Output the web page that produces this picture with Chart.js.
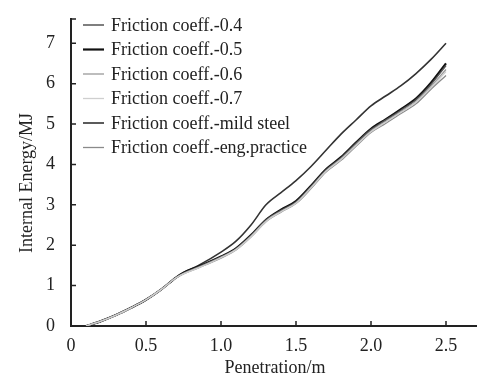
<!DOCTYPE html>
<html>
<head>
<meta charset="utf-8">
<script src="https://cdn.jsdelivr.net/npm/chart.js@4.4.0/dist/chart.umd.min.js"></script>
<style>
  html, body { margin: 0; padding: 0; background: #fff; }
  canvas { display: block; }
</style>
</head>
<body>
<canvas id="chart" width="477" height="378"></canvas>
<script>
// penetration (m) shared by every curve
const penetration = [0.1, 0.2, 0.3, 0.4, 0.5, 0.6, 0.7, 0.75, 0.85, 1.0, 1.1, 1.2, 1.3, 1.4, 1.5, 1.6, 1.7, 1.8, 1.9, 2.0, 2.1, 2.2, 2.3, 2.4, 2.5];

// internal energy (MJ)
const coeff04   = [0, 0.12, 0.27, 0.45, 0.65, 0.9, 1.2, 1.31, 1.46, 1.71, 1.91, 2.24, 2.62, 2.86, 3.07, 3.45, 3.86, 4.16, 4.52, 4.86, 5.1, 5.34, 5.6, 5.98, 6.45];
const coeff05   = [0, 0.12, 0.27, 0.45, 0.65, 0.9, 1.2, 1.32, 1.47, 1.72, 1.92, 2.25, 2.63, 2.88, 3.09, 3.47, 3.88, 4.18, 4.54, 4.88, 5.12, 5.37, 5.63, 6.02, 6.5];
const coeff06   = [0, 0.12, 0.27, 0.45, 0.65, 0.9, 1.2, 1.3, 1.45, 1.7, 1.9, 2.22, 2.6, 2.84, 3.05, 3.43, 3.84, 4.14, 4.49, 4.83, 5.07, 5.31, 5.56, 5.93, 6.35];
const coeff07   = [0, 0.12, 0.27, 0.45, 0.65, 0.9, 1.19, 1.29, 1.44, 1.69, 1.89, 2.21, 2.59, 2.83, 3.04, 3.42, 3.83, 4.12, 4.47, 4.81, 5.05, 5.29, 5.54, 5.9, 6.3];
const mildSteel = [0, 0.12, 0.27, 0.45, 0.65, 0.9, 1.2, 1.32, 1.5, 1.83, 2.1, 2.5, 3.0, 3.3, 3.6, 3.95, 4.35, 4.75, 5.1, 5.45, 5.7, 5.95, 6.25, 6.6, 7.0];
const engPractice = [0, 0.12, 0.27, 0.45, 0.65, 0.9, 1.19, 1.29, 1.44, 1.68, 1.88, 2.2, 2.58, 2.82, 3.03, 3.4, 3.81, 4.1, 4.45, 4.79, 5.02, 5.26, 5.5, 5.86, 6.2];

const seriesLabels = ['Friction coeff.-0.4', 'Friction coeff.-0.5', 'Friction coeff.-0.6', 'Friction coeff.-0.7', 'Friction coeff.-mild steel', 'Friction coeff.-eng.practice'];
const seriesData = [coeff04, coeff05, coeff06, coeff07, mildSteel, engPractice];
const seriesColors = ['#555555', '#111111', '#9a9a9a', '#cfcfcf', '#333333', '#8a8a8a'];
const seriesWidths = [1.5, 2.2, 1.3, 1.3, 1.6, 1.3];

const xTicks = [0, 0.5, 1.0, 1.5, 2.0, 2.5];
const yTicks = [0, 1, 2, 3, 4, 5, 6, 7];

const serif = '"Liberation Serif", "DejaVu Serif", serif';

const datasets = seriesData.map((vals, i) => ({
    label: seriesLabels[i],
    data: vals.map((v, j) => ({ x: penetration[j], y: v })),
    borderColor: seriesColors[i],
    borderWidth: seriesWidths[i],
    pointRadius: 0,
    fill: false,
    cubicInterpolationMode: 'monotone'
}));
// draw the light curves first so the dark ones stay on top
const order = [3, 2, 5, 0, 1, 4];
const drawn = order.map(i => datasets[i]);

const decor = {
    id: 'decor',
    afterDraw(chart) {
        const ctx = chart.ctx;
        const area = chart.chartArea;
        const xs = chart.scales.x, ys = chart.scales.y;
        ctx.save();
        // inward tick marks
        ctx.strokeStyle = '#222';
        ctx.lineWidth = 1.5;
        ctx.beginPath();
        yTicks.concat([7.6]).forEach(v => {
            const p = ys.getPixelForValue(v);
            ctx.moveTo(area.left, p);
            ctx.lineTo(area.left + 5, p);
        });
        xTicks.forEach(v => {
            const p = xs.getPixelForValue(v);
            ctx.moveTo(p, area.bottom);
            ctx.lineTo(p, area.bottom - 5);
        });
        ctx.stroke();

        // legend
        ctx.font = '18px ' + serif;
        ctx.textBaseline = 'middle';
        ctx.textAlign = 'left';
        seriesLabels.forEach((lab, i) => {
            const y = 25 + i * 24.5;
            ctx.strokeStyle = seriesColors[i];
            ctx.lineWidth = seriesWidths[i];
            ctx.beginPath();
            ctx.moveTo(83, y);
            ctx.lineTo(104, y);
            ctx.stroke();
            ctx.fillStyle = '#222';
            ctx.fillText(lab, 111, y + 1);
        });

        // axis titles
        ctx.fillStyle = '#222';
        ctx.textAlign = 'center';
        ctx.fillText('Penetration/m', 275, 368);
        ctx.translate(27, 183);
        ctx.rotate(-Math.PI / 2);
        ctx.fillText('Internal Energy/MJ', 0, 0);
        ctx.restore();
    }
};

new Chart(document.getElementById('chart').getContext('2d'), {
    type: 'line',
    data: { datasets: drawn },
    plugins: [decor],
    options: {
        responsive: false,
        animation: false,
        layout: { padding: { top: 19, right: 1, left: 0, bottom: 0 } },
        plugins: { legend: { display: false }, tooltip: { enabled: false } },
        scales: {
            x: {
                type: 'linear',
                min: 0,
                max: 2.7,
                afterFit(s) { s.height = 52; },
                afterBuildTicks(s) { s.ticks = xTicks.map(v => ({ value: v })); },
                grid: { display: false },
                border: { display: true, color: '#222', width: 2 },
                ticks: {
                    padding: 1,
                    color: '#222',
                    font: { family: serif, size: 18 },
                    callback: v => v === 0 ? '0' : v.toFixed(1)
                }
            },
            y: {
                min: 0,
                max: 7.6,
                afterFit(s) { s.width = 71; },
                afterBuildTicks(s) { s.ticks = yTicks.map(v => ({ value: v })); },
                grid: { display: false },
                border: { display: true, color: '#222', width: 2 },
                ticks: {
                    padding: 8,
                    color: '#222',
                    font: { family: serif, size: 18 },
                    callback: v => String(v)
                }
            }
        }
    }
});
</script>
</body>
</html>
